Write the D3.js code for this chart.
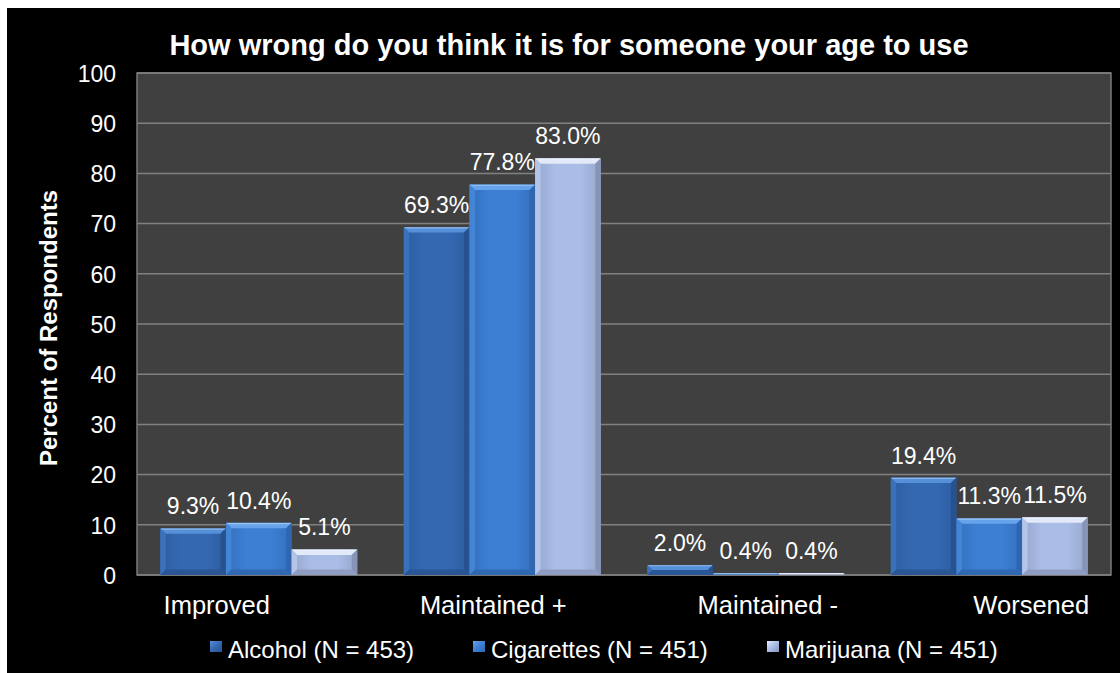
<!DOCTYPE html>
<html>
<head>
<meta charset="utf-8">
<script src="https://cdn.jsdelivr.net/npm/d3@7/dist/d3.min.js"></script>
<style>
  html, body { margin: 0; padding: 0; background: #ffffff; }
  svg { display: block; }
  text { font-family: "Liberation Sans", Arial, sans-serif; fill: #ffffff; }
</style>
</head>
<body>
<svg id="chart" width="1120" height="673"></svg>
<script>
// Survey results by outcome category
const categories = ["Improved", "Maintained +", "Maintained -", "Worsened"];
const seriesNames = ["Alcohol (N = 453)", "Cigarettes (N = 451)", "Marijuana (N = 451)"];
const alcohol    = [9.3, 69.3, 2.0, 19.4];
const cigarettes = [10.4, 77.8, 0.4, 11.3];
const marijuana  = [5.1, 83.0, 0.4, 11.5];
const yTicks = [0, 10, 20, 30, 40, 50, 60, 70, 80, 90, 100];
const titleText = "How wrong do you think it is for someone your age to use";
const yTitleText = "Percent of Respondents";

const seriesValues = [alcohol, cigarettes, marijuana];

// Layout
const plot = { left: 137, right: 1111, top: 73, bottom: 575 };
const catLabelNudge = [-42, -9, 22, 42];
const legendX = [210, 473, 767];

// Bevel shades per series: body edge, body centre, top, left, right, bottom
const palette = [
  { edge: "#2b5c9f", mid: "#3469b2", top: "#5590d8", left: "#3c75bf", right: "#27528f", bottom: "#2a5696" },
  { edge: "#336fbd", mid: "#3d7fd3", top: "#66a3ea", left: "#4788d8", right: "#2f66af", bottom: "#3068b2" },
  { edge: "#97a6cc", mid: "#aabde6", top: "#e2eaf9", left: "#b9c9ec", right: "#8794b8", bottom: "#8f9dc2" }
];

const svg = d3.select("#chart");
const defs = svg.append("defs");

palette.forEach((p, i) => {
  const g = defs.append("linearGradient").attr("id", "body" + i)
    .attr("x1", "0").attr("x2", "1").attr("y1", "0").attr("y2", "0");
  g.append("stop").attr("offset", "0%").attr("stop-color", p.edge);
  g.append("stop").attr("offset", "30%").attr("stop-color", p.mid);
  g.append("stop").attr("offset", "70%").attr("stop-color", p.mid);
  g.append("stop").attr("offset", "100%").attr("stop-color", p.edge);
  const m = defs.append("linearGradient").attr("id", "mark" + i)
    .attr("x1", "0").attr("x2", "1").attr("y1", "0").attr("y2", "1");
  m.append("stop").attr("offset", "0%").attr("stop-color", p.top);
  m.append("stop").attr("offset", "50%").attr("stop-color", p.mid);
  m.append("stop").attr("offset", "100%").attr("stop-color", p.right);
});

// Black backdrop
svg.append("rect").attr("x", 7).attr("y", 8).attr("width", 1113).attr("height", 665).attr("fill", "#000000");

// Scales
const x0 = d3.scaleBand().domain(categories)
  .range([plot.left, plot.right]).paddingInner(0.191).paddingOuter(0.0955);
const x1 = d3.scaleBand().domain(d3.range(seriesNames.length)).range([0, x0.bandwidth()]);
const y = d3.scaleLinear().domain([0, 100]).range([plot.bottom, plot.top]);

// Plot area
svg.append("rect")
  .attr("x", plot.left).attr("y", plot.top)
  .attr("width", plot.right - plot.left).attr("height", plot.bottom - plot.top)
  .attr("fill", "#404040").attr("stroke", "#7a7a7a").attr("stroke-width", 1.5);

// Gridlines
svg.append("g").selectAll("line").data(yTicks).join("line")
  .attr("x1", plot.left).attr("x2", plot.right)
  .attr("y1", d => y(d)).attr("y2", d => y(d))
  .attr("stroke", "#808080").attr("stroke-width", 1.5);

// Y axis labels
const yAxis = d3.axisLeft(y).tickValues(yTicks).tickSize(0).tickPadding(21);
const yg = svg.append("g").attr("transform", `translate(${plot.left},0)`).call(yAxis);
yg.select(".domain").remove();
yg.selectAll("text")
  .attr("fill", "#ffffff").style("fill", "#ffffff")
  .attr("font-size", 23).attr("font-family", "Liberation Sans, Arial, sans-serif")
  .attr("dy", "0.36em");

// Bars with bevelled faces
const bars = [];
categories.forEach((c, ci) => {
  seriesValues.forEach((vals, si) => {
    bars.push({ cat: c, ci, si, value: vals[ci] });
  });
});

const barG = svg.append("g");
bars.forEach(d => {
  const bx = x0(d.cat) + x1(d.si);
  const bw = x1.bandwidth();
  const by = y(d.value);
  const bh = y(0) - by;
  const b = Math.min(5.5, bh / 2, bw / 2);
  const p = palette[d.si];
  const g = barG.append("g");
  g.append("rect").attr("x", bx).attr("y", by).attr("width", bw).attr("height", bh)
    .attr("fill", `url(#body${d.si})`);
  const poly = pts => pts.map(q => q.join(",")).join(" ");
  g.append("polygon").attr("points", poly([[bx, by], [bx + bw, by], [bx + bw - b, by + b], [bx + b, by + b]]))
    .attr("fill", p.top);
  g.append("polygon").attr("points", poly([[bx, by], [bx + b, by + b], [bx + b, by + bh - b], [bx, by + bh]]))
    .attr("fill", p.left).attr("opacity", 0.85);
  g.append("polygon").attr("points", poly([[bx + bw, by], [bx + bw, by + bh], [bx + bw - b, by + bh - b], [bx + bw - b, by + b]]))
    .attr("fill", p.right);
  g.append("polygon").attr("points", poly([[bx, by + bh], [bx + b, by + bh - b], [bx + bw - b, by + bh - b], [bx + bw, by + bh]]))
    .attr("fill", p.bottom);
  // thin highlight along the top edge
  g.append("line").attr("x1", bx + 1).attr("x2", bx + bw - 1).attr("y1", by + 0.8).attr("y2", by + 0.8)
    .attr("stroke", "#ffffff").attr("stroke-opacity", 0.35).attr("stroke-width", 1.2);
});

// Value labels
svg.append("g").selectAll("text").data(bars).join("text")
  .attr("x", d => x0(d.cat) + x1(d.si) + x1.bandwidth() / 2)
  .attr("y", d => y(d.value) - 14)
  .attr("text-anchor", "middle")
  .attr("font-size", 23)
  .text(d => d.value.toFixed(1) + "%");

// Category labels
svg.append("g").selectAll("text").data(categories).join("text")
  .attr("x", (d, i) => x0(d) + x0.bandwidth() / 2 + catLabelNudge[i])
  .attr("y", 614)
  .attr("text-anchor", "middle")
  .attr("font-size", 25.5)
  .text(d => d);

// Title
svg.append("text")
  .attr("x", 569).attr("y", 55)
  .attr("text-anchor", "middle")
  .attr("font-size", 29).attr("font-weight", "bold")
  .text(titleText);

// Y axis title
svg.append("text")
  .attr("transform", `translate(57,328) rotate(-90)`)
  .attr("text-anchor", "middle")
  .attr("font-size", 24).attr("font-weight", "bold")
  .text(yTitleText);

// Legend
const leg = svg.append("g").selectAll("g").data(seriesNames).join("g")
  .attr("transform", (d, i) => `translate(${legendX[i]},641)`);
leg.append("rect").attr("width", 12).attr("height", 11).attr("fill", (d, i) => `url(#mark${i})`);
leg.append("text").attr("x", 18).attr("y", 17).attr("font-size", 24).text(d => d);
</script>
</body>
</html>
